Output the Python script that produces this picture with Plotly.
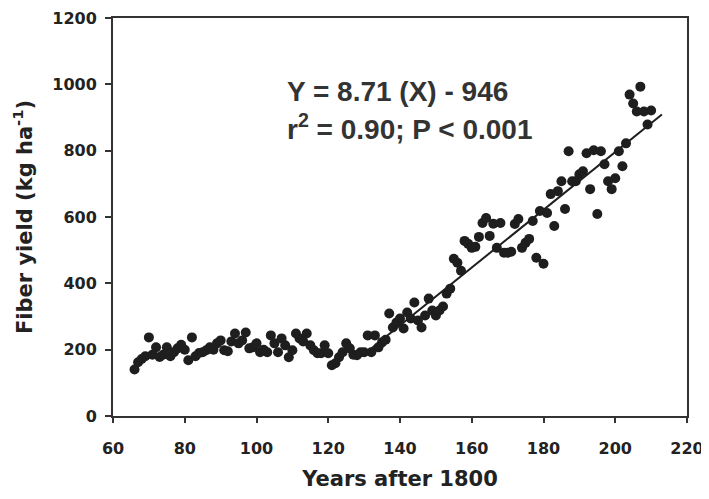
import plotly.graph_objects as go

years = list(range(66, 211))
yield_kg = [
    140, 162, 172, 180, 237, 185, 207, 178, 185, 207,   # 66-75
    180, 192, 204, 215, 200, 168, 237, 180, 190, 192,   # 76-85
    198, 207, 200, 219, 228, 198, 195, 225, 249, 219,   # 86-95
    228, 252, 204, 207, 219, 192, 200, 192, 243, 219,   # 96-105
    192, 234, 213, 177, 198, 249, 234, 225, 249, 213,   # 106-115
    198, 189, 189, 213, 189, 153, 159, 177, 192, 219,   # 116-125
    204, 185, 183, 192, 192, 243, 192, 243, 207, 222,   # 126-135
    230, 309, 267, 282, 294, 264, 312, 294, 342, 288,   # 136-145
    267, 303, 354, 318, 303, 318, 330, 369, 384, 474,   # 146-155
    462, 438, 528, 519, 507, 510, 540, 582, 597, 543,   # 156-165
    580, 507, 582, 492, 492, 495, 579, 594, 507, 522,   # 166-175
    534, 588, 477, 618, 459, 612, 669, 573, 678, 708,   # 176-185
    624, 798, 708, 708, 729, 738, 792, 684, 801, 609,   # 186-195
    798, 759, 708, 684, 717, 798, 753, 822, 969, 942,   # 196-205
    918, 993, 918, 879, 921,                            # 206-210
]

slope = 8.71
intercept = -946
fit_x = [130, 213]
fit_y = [slope * x + intercept for x in fit_x]

x_ticks = [60, 80, 100, 120, 140, 160, 180, 200, 220]
y_ticks = [0, 200, 400, 600, 800, 1000, 1200]

axis_color = "#333333"
tick_font = dict(family="DejaVu Sans", size=16, color="#222222", weight="bold")
title_font = dict(family="DejaVu Sans", size=21, color="#222222")
eq_font = dict(family="Liberation Sans", size=28, color="#333333", weight="bold")

fig = go.Figure()
fig.add_trace(go.Scatter(
    x=years, y=yield_kg, mode="markers",
    marker=dict(size=10, color="#1e1e1e", line=dict(width=0)),
    showlegend=False,
))
fig.add_trace(go.Scatter(
    x=fit_x, y=fit_y, mode="lines",
    line=dict(color="#1e1e1e", width=2),
    showlegend=False,
))

fig.add_annotation(
    x=0.30, y=0.815, xref="paper", yref="paper", xanchor="left", yanchor="middle",
    text="Y = 8.71 (X) - 946", showarrow=False, font=eq_font,
)
fig.add_annotation(
    x=0.30, y=0.726, xref="paper", yref="paper", xanchor="left", yanchor="middle",
    text="r<sup>2</sup> = 0.90; P < 0.001", showarrow=False, font=eq_font,
)

fig.update_xaxes(
    range=[60, 220], tickvals=x_ticks, ticktext=[str(v) for v in x_ticks],
    showline=True, linecolor=axis_color, linewidth=2, mirror=True,
    ticks="outside", ticklen=5, tickwidth=1.5, tickcolor=axis_color,
    showgrid=False, zeroline=False, tickfont=tick_font,
    ticklabelstandoff=12, automargin=False,
    title=dict(text="<b>Years after 1800</b>", font=title_font, standoff=24),
)
fig.update_yaxes(
    range=[0, 1200], tickvals=y_ticks, ticktext=[str(v) for v in y_ticks],
    showline=True, linecolor=axis_color, linewidth=2, mirror=True,
    ticks="outside", ticklen=6, tickwidth=1.5, tickcolor=axis_color,
    showgrid=False, zeroline=False, tickfont=tick_font,
    ticklabelstandoff=5, automargin=False,
    title=dict(text="<b>Fiber yield (kg ha<sup>-1</sup>)</b>", font=title_font, standoff=14),
)
fig.update_layout(
    width=701, height=483,
    margin=dict(l=105, r=22, t=10, b=75),
    plot_bgcolor="white", paper_bgcolor="white",
    font=dict(family="DejaVu Sans"),
)

fig.write_html("out.html")
